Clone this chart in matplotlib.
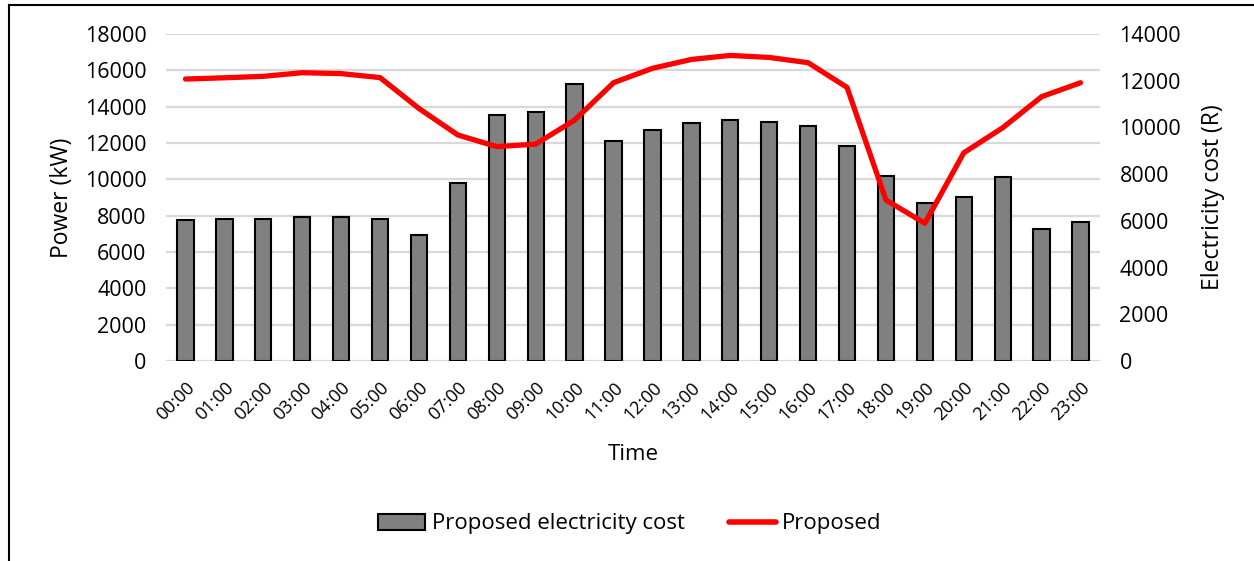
import matplotlib
matplotlib.use("Agg")
import matplotlib.pyplot as plt
from matplotlib.lines import Line2D
import numpy as np

plt.rcParams["font.family"] = ["Open Sans", "DejaVu Sans"]

hours = ["%02d:00" % h for h in range(24)]

# proposed electricity cost per hour (R), right axis
cost = [6040, 6070, 6090, 6180, 6150, 6070, 5410, 7630, 10530, 10680, 11870, 9400,
        9900, 10190, 10330, 10250, 10070, 9220, 7930, 6750, 7030, 7880, 5640, 5970]

# proposed power (kW), left axis
power = [15520, 15590, 15670, 15870, 15820, 15600, 13900, 12440, 11800, 11940, 13260, 15320,
         16110, 16600, 16820, 16710, 16420, 15060, 8860, 7580, 11460, 12840, 14550, 15320]

W, H = 1254, 561
fig = plt.figure(figsize=(W / 100, H / 100), dpi=100)
ax1 = fig.add_axes([166 / W, 1 - 361 / H, (1100 - 166) / W, (361 - 34) / H])
ax2 = ax1.twinx()

x = np.arange(len(hours))

# bars on the right (cost) axis, line on the left (power) axis
ax2.bar(x, cost, width=0.42, color="#808080", edgecolor="black", linewidth=1.5,
        zorder=2)
ax1.set_zorder(ax2.get_zorder() + 1)
ax1.patch.set_visible(False)
ax1.plot(x, power, color="#ff0000", linewidth=3.8, solid_capstyle="round", zorder=3)

ax1.set_xlim(-0.5, 23.5)
ax1.set_ylim(0, 18000)
ax1.set_yticks(np.arange(0, 18001, 2000))
ax2.set_ylim(0, 14000)
ax2.set_yticks(np.arange(0, 14001, 2000))

# gridlines drawn behind bars on the bar axis, at left-axis positions
for v in np.arange(0, 18001, 2000):
    ax2.axhline(v * 14000 / 18000, color="#d9d9d9", linewidth=1.6, zorder=1)

for a in (ax1, ax2):
    for s in a.spines.values():
        s.set_visible(False)
    a.tick_params(length=0, labelsize=15.5)

ax1.set_xticks(x)
ax1.set_xticklabels(hours, rotation=45, ha="right", rotation_mode="anchor", fontsize=13)
ax1.tick_params(axis="x", pad=13)
ax1.tick_params(axis="y", pad=14)
ax2.tick_params(axis="y", pad=14)

ax1.set_ylabel("Power (kW)", fontsize=16.5, labelpad=8)
ax2.set_ylabel("Electricity cost (R)", fontsize=16.5, labelpad=14)
ax1.set_xlabel("Time", fontsize=16, labelpad=14)

handles = [
    plt.Rectangle((0, 0), 1, 1, facecolor="#808080", edgecolor="black", linewidth=1.5),
    Line2D([0], [0], color="#ff0000", linewidth=4, solid_capstyle="round"),
]
fig.legend(handles, ["Proposed electricity cost", "Proposed"], loc="center",
           bbox_to_anchor=(630 / W, 1 - 524 / H), ncol=2, frameon=False, fontsize=16,
           handlelength=2.1, handletextpad=0.3, columnspacing=2.0)

# outer frame (top and left edges visible)
fig.add_artist(Line2D([8.5 / W, 8.5 / W], [0, 1 - 5 / H], color="black", linewidth=1.5,
                      transform=fig.transFigure))
fig.add_artist(Line2D([8.5 / W, 1], [1 - 5 / H, 1 - 5 / H], color="black", linewidth=1.5,
                      transform=fig.transFigure))

fig.savefig("out.png", dpi=100)
